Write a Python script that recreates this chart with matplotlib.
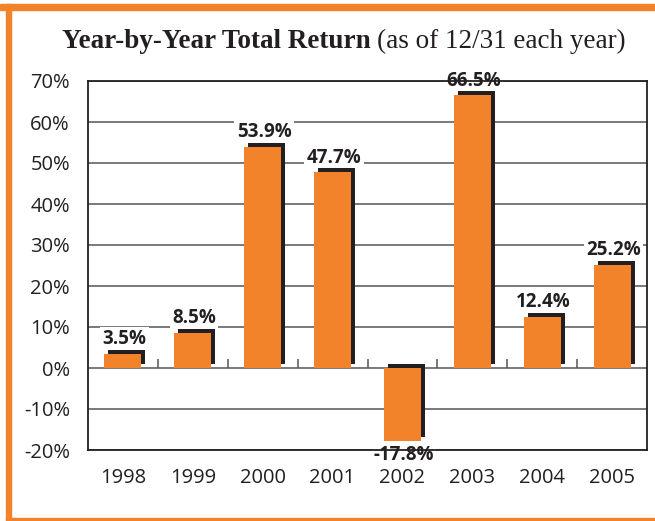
import matplotlib
matplotlib.use("Agg")
import matplotlib.pyplot as plt
from matplotlib.transforms import offset_copy
from matplotlib.patches import Rectangle

years = ["1998", "1999", "2000", "2001", "2002", "2003", "2004", "2005"]
returns = [3.5, 8.5, 53.9, 47.7, -17.8, 66.5, 12.4, 25.2]
labels = ["3.5%", "8.5%", "53.9%", "47.7%", "-17.8%", "66.5%", "12.4%", "25.2%"]
yticks = [-20, -10, 0, 10, 20, 30, 40, 50, 60, 70]
ytick_labels = [f"{v}%" for v in yticks]

ORANGE = "#F2832B"
DARK = "#231F20"
GRID = "#555555"

fig = plt.figure(figsize=(6.55, 5.21), dpi=100)

# orange frame
fig.patches.append(Rectangle((0, 1 - 10/521), 1, 6/521, transform=fig.transFigure,
                             color=ORANGE, zorder=0))
fig.patches.append(Rectangle((6/655, 0), 5/655, 1 - 4/521, transform=fig.transFigure,
                             color=ORANGE, zorder=0))
fig.patches.append(Rectangle((6/655, 1/521), 1, 2/521, transform=fig.transFigure,
                             color=ORANGE, zorder=0))

ax = fig.add_axes([88/655, 71/521, (647-88)/655, (450-81)/521])
x = list(range(len(years)))
width = 0.53

shadow_tr = offset_copy(ax.transData, fig=fig, x=4, y=4, units="dots")
ax.bar(x, returns, width=width, color=DARK, transform=shadow_tr, zorder=3)
ax.bar(x, returns, width=width, color=ORANGE, zorder=4)

ax.set_xlim(-0.5, len(years) - 0.5)
ax.set_ylim(-20, 70)
ax.set_yticks(yticks)
ax.set_yticklabels(ytick_labels)
ax.set_xticks(x)
ax.set_xticklabels(years)
ax.tick_params(axis="both", length=0, colors=DARK, labelsize=14.5)
ax.tick_params(axis="y", pad=13)
ax.tick_params(axis="x", pad=13)
for lab in ax.get_xticklabels() + ax.get_yticklabels():
    lab.set_fontfamily("Open Sans")
    lab.set_color(DARK)

for y in yticks:
    ax.axhline(y, color=GRID, lw=1.1, zorder=1)

# small separator ticks on zero line
ax.vlines([i + 0.5 for i in x[:-1]], 0, 2.1, color=GRID, lw=1.1, zorder=1)

for s in ax.spines.values():
    s.set_color(DARK)
    s.set_linewidth(1.3)
    s.set_zorder(5)

for xi, v, lab in zip(x, returns, labels):
    dy = 7 if v >= 0 else -14
    ax.annotate(lab, (xi, v), xytext=(1, dy), textcoords="offset points",
                ha="center", va="baseline", fontsize=13.5, fontweight="bold",
                family="Open Sans", color=DARK, zorder=2,
                bbox=dict(boxstyle="square,pad=0.12", fc="white", ec="none"))

# title
t1 = fig.text(62/655, 1 - 48.5/521, "Year-by-Year Total Return", family="Liberation Serif",
              fontweight="bold", fontsize=19.5, color=DARK, ha="left", va="baseline")
fig.canvas.draw()
bb = t1.get_window_extent()
fig.text(bb.x1 / fig.bbox.width + 6/655, 1 - 48.5/521, "(as of 12/31 each year)",
         family="Liberation Serif", fontsize=19.5, color=DARK, ha="left", va="baseline")

fig.savefig("out.png", dpi=100)
